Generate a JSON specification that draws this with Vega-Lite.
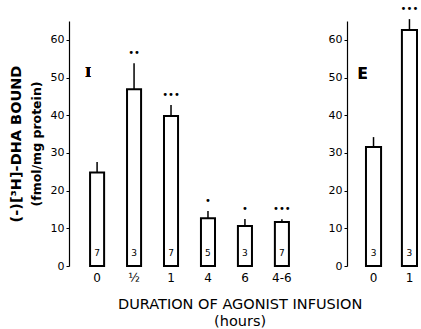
{
  "$schema": "https://vega.github.io/schema/vega-lite/v6.json",
  "padding": {"left": 8, "top": 4, "right": 0, "bottom": 0},
  "bounds": "flush",
  "spacing": 37,
  "background": "white",
  "title": {
    "text": ["DURATION OF AGONIST INFUSION", "(hours)"],
    "orient": "bottom",
    "anchor": "middle",
    "fontSize": 14.5,
    "fontWeight": "normal",
    "font": "DejaVu Sans",
    "color": "black",
    "offset": 15,
    "lineHeight": 17,
    "dx": 27
  },
  "datasets": {
    "infusionI": [
      {"dur": "0", "mean": 24.8, "upper": 27.6, "n": "7", "sig": ""},
      {"dur": "½", "mean": 46.9, "upper": 53.8, "n": "3", "sig": "••"},
      {"dur": "1", "mean": 39.8, "upper": 42.7, "n": "7", "sig": "•••"},
      {"dur": "4", "mean": 12.7, "upper": 14.6, "n": "5", "sig": "•"},
      {"dur": "6", "mean": 10.6, "upper": 12.5, "n": "3", "sig": "•"},
      {"dur": "4-6", "mean": 11.7, "upper": 12.4, "n": "7", "sig": "•••"}
    ],
    "infusionE": [
      {"dur": "0", "mean": 31.6, "upper": 34.2, "n": "3", "sig": ""},
      {"dur": "1", "mean": 62.6, "upper": 65.5, "n": "3", "sig": "•••"}
    ]
  },
  "hconcat": [
    {
      "width": 241,
      "height": 245,
      "data": {"name": "infusionI"},
      "resolve": {"axis": {"y": "independent"}},
      "encoding": {
        "x": {
          "field": "dur",
          "type": "nominal",
          "sort": null,
          "scale": {"domain": ["0", "½", "1", "4", "6", "4-6"], "paddingInner": 0.62, "paddingOuter": 0.57},
          "axis": {"title": null, "labelAngle": 0, "domain": false, "ticks": false, "labelPadding": 6, "labelFontSize": 12}
        }
      },
      "layer": [
        {
          "mark": {"type": "bar", "fill": "white", "stroke": "black", "strokeWidth": 2},
          "encoding": {
            "y": {
              "field": "mean",
              "type": "quantitative",
              "scale": {"domain": [0, 65], "nice": false},
              "axis": {
                "orient": "left",
                "title": "(fmol/mg protein)",
                "values": [0, 10, 20, 30, 40, 50, 60],
                "titleFontSize": 12.5,
                "titleFontWeight": "bold",
                "titlePadding": 7
              }
            }
          }
        },
        {
          "mark": {"type": "rule", "stroke": "black", "strokeWidth": 1.5},
          "encoding": {
            "y": {
              "field": "mean",
              "type": "quantitative",
              "axis": {
                "orient": "left",
                "title": "(-)[³H]-DHA BOUND",
                "labels": false,
                "ticks": false,
                "domain": false,
                "titleFontSize": 14.5,
                "titleFontWeight": "bold",
                "titlePadding": 0,
                "offset": 46
              }
            },
            "y2": {"field": "upper"}
          }
        },
        {
          "mark": {"type": "text", "dy": -10, "fontSize": 10, "baseline": "middle", "font": "DejaVu Sans", "fill": "black"},
          "encoding": {
            "y": {"field": "upper", "type": "quantitative", "axis": null},
            "text": {"field": "sig"}
          }
        },
        {
          "mark": {"type": "text", "dy": -13, "fontSize": 9, "baseline": "middle", "font": "DejaVu Sans", "fill": "black"},
          "encoding": {
            "y": {"datum": 0, "type": "quantitative", "axis": null},
            "text": {"field": "n"}
          }
        },
        {
          "mark": {"type": "text", "dx": -9, "fontSize": 15, "fontWeight": "bold", "font": "Liberation Serif", "baseline": "middle", "fill": "black"},
          "encoding": {
            "x": {"datum": "0"},
            "y": {"datum": 51.5, "type": "quantitative", "axis": null},
            "text": {"value": "I"}
          }
        }
      ]
    },
    {
      "width": 71,
      "height": 245,
      "data": {"name": "infusionE"},
      "encoding": {
        "x": {
          "field": "dur",
          "type": "nominal",
          "sort": null,
          "scale": {"domain": ["0", "1"], "paddingInner": 0.58, "paddingOuter": 0.278, "align": 0.95},
          "axis": {"title": null, "labelAngle": 0, "domain": false, "ticks": false, "labelPadding": 6, "labelFontSize": 12}
        }
      },
      "layer": [
        {
          "mark": {"type": "bar", "fill": "white", "stroke": "black", "strokeWidth": 2},
          "encoding": {
            "y": {
              "field": "mean",
              "type": "quantitative",
              "scale": {"domain": [0, 65], "nice": false},
              "axis": {"title": null, "values": [0, 10, 20, 30, 40, 50, 60]}
            }
          }
        },
        {
          "mark": {"type": "rule", "stroke": "black", "strokeWidth": 1.5},
          "encoding": {
            "y": {"field": "mean", "type": "quantitative"},
            "y2": {"field": "upper"}
          }
        },
        {
          "mark": {"type": "text", "dy": -10, "fontSize": 10, "baseline": "middle", "font": "DejaVu Sans", "fill": "black"},
          "encoding": {
            "y": {"field": "upper", "type": "quantitative"},
            "text": {"field": "sig"}
          }
        },
        {
          "mark": {"type": "text", "dy": -13, "fontSize": 9, "baseline": "middle", "font": "DejaVu Sans", "fill": "black"},
          "encoding": {
            "y": {"datum": 0, "type": "quantitative"},
            "text": {"field": "n"}
          }
        },
        {
          "mark": {"type": "text", "dx": -11, "fontSize": 15, "fontWeight": "bold", "font": "DejaVu Sans", "baseline": "middle", "fill": "black"},
          "encoding": {
            "x": {"datum": "0"},
            "y": {"datum": 51, "type": "quantitative"},
            "text": {"value": "E"}
          }
        }
      ]
    }
  ],
  "config": {
    "view": {"stroke": null},
    "font": "DejaVu Sans",
    "axis": {
      "grid": false,
      "domainColor": "black",
      "domainWidth": 1.2,
      "tickColor": "black",
      "labelColor": "black",
      "titleColor": "black",
      "labelFont": "DejaVu Sans",
      "titleFont": "DejaVu Sans",
      "labelFontSize": 11
    },
    "axisY": {"tickSize": 3, "labelPadding": 2}
  }
}
